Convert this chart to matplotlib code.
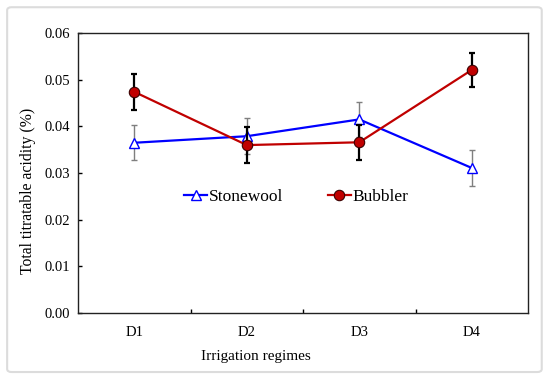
import numpy as np
import matplotlib.pyplot as plt
from matplotlib.patches import FancyBboxPatch

plt.rcParams['font.family'] = ['Liberation Serif', 'DejaVu Serif']

# datos
regimes = ["D1", "D2", "D3", "D4"]
stonewool = [0.0365, 0.0379, 0.0415, 0.0311]
stonewool_err = [0.0037, 0.0038, 0.0038, 0.0038]
bubbler = [0.0474, 0.0360, 0.0366, 0.0521]
bubbler_err = [0.0038, 0.0038, 0.0038, 0.0037]

x = np.arange(len(regimes))

fig = plt.figure(figsize=(5.5, 3.8), dpi=100)
ax = fig.add_axes([0.142, 0.176, 0.818, 0.737])

# marco exterior gris claro
marco = FancyBboxPatch((0.013, 0.021), 0.972, 0.96, boxstyle="round,pad=0,rounding_size=0.008",
                       transform=fig.transFigure, fill=False, edgecolor="#dcdcdc", linewidth=1.5)
fig.patches.append(marco)

ax.errorbar(x, stonewool, yerr=stonewool_err, fmt='none', ecolor='#7f7f7f',
            elinewidth=1.0, capsize=2.2, capthick=1.0, zorder=2)
ax.plot(x, stonewool, color='#0000ff', linewidth=1.6, marker='^', markersize=6.5,
        markerfacecolor='white', markeredgecolor='#0000ff', markeredgewidth=1.0,
        label="Stonewool", zorder=3)

ax.errorbar(x, bubbler, yerr=bubbler_err, fmt='none', ecolor='black',
            elinewidth=1.6, capsize=2.2, capthick=1.6, zorder=4)
ax.plot(x, bubbler, color='#c00000', linewidth=1.6, marker='o', markersize=7.5,
        markerfacecolor='#c00000', markeredgecolor='#3a0000', markeredgewidth=0.8,
        label="Bubbler", zorder=5)

ax.set_xlim(-0.5, 3.5)
ax.set_ylim(0, 0.06)
ax.set_yticks(np.arange(0, 0.061, 0.01))
ax.set_yticklabels([f"{v:.2f}" for v in np.arange(0, 0.061, 0.01)])
ax.set_xticks(x)
ax.set_xticklabels(regimes)
ax.set_xticks([0.5, 1.5, 2.5], minor=True)
ax.tick_params(axis='x', which='major', length=0, labelsize=10.5, pad=9)
ax.tick_params(axis='x', which='minor', length=3, direction='in', width=1)
ax.tick_params(axis='y', which='major', length=3, direction='in', width=1, labelsize=10.5, pad=6)

for s in ax.spines.values():
    s.set_linewidth(1.0)
    s.set_color('#222222')

ax.set_xlabel("Irrigation regimes", fontsize=11)
ax.xaxis.set_label_coords(0.395, -0.13)
ax.set_ylabel("Total titratable acidity (%)", fontsize=11.3)
ax.yaxis.set_label_coords(-0.094, 0.436)

ax.legend(loc='center', bbox_to_anchor=(0.485, 0.414), ncol=2, frameon=False,
          fontsize=12.5, handlelength=1.3, handletextpad=0.1, columnspacing=2.6)

plt.savefig("out.png", dpi=100)
